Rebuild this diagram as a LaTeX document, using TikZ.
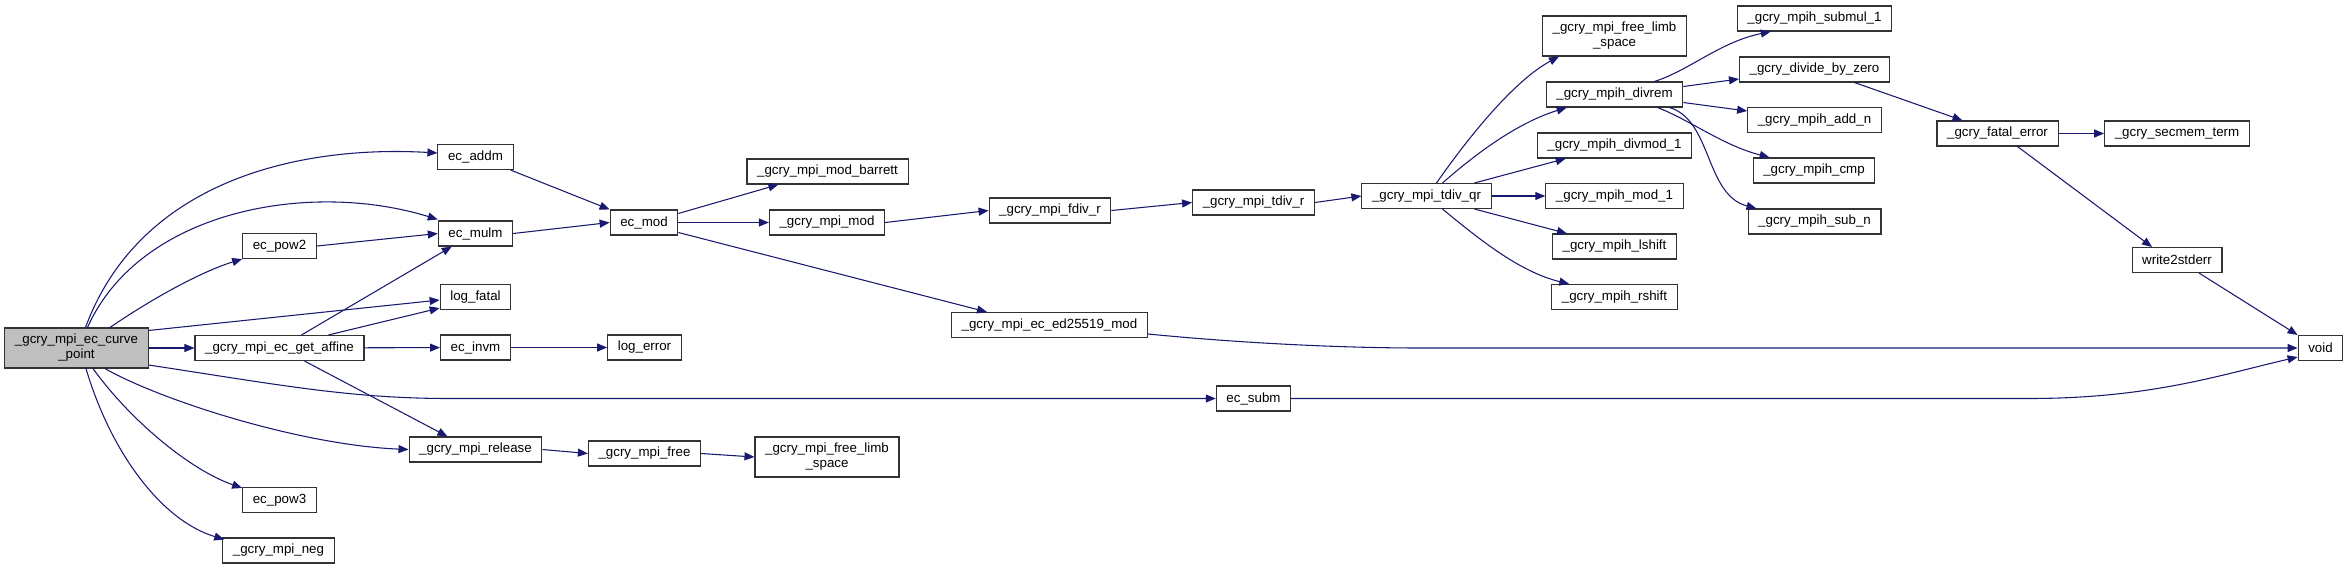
\documentclass[tikz,border=0pt]{standalone}
\usepackage{fontspec}
\setmainfont{Liberation Sans}
\usetikzlibrary{positioning,arrows.meta,calc}
\definecolor{callblue}{RGB}{25,25,112}
\definecolor{rootgray}{RGB}{191,191,191}

\begin{document}
\begin{tikzpicture}[
  x=0.75pt, y=-0.75pt,
  >={Triangle[length=7.5pt,width=6pt]},
  every node/.style={font=\fontsize{10}{11.25}\selectfont},
  fnbox/.style={draw=black!80, line width=0.8pt, fill=white, inner xsep=7.6pt, inner ysep=0pt, minimum height=18.75pt, align=center},
  rootbox/.style={fnbox, fill=rootgray, minimum height=30pt},
  twoline/.style={fnbox, minimum height=30pt},
  call/.style={->, draw=callblue, fill=none, line width=0.8pt}
]
\useasboundingbox (0,0) rectangle (2349,569);

% caller and first level
\node[rootbox] (root) at (76.5,348) {\_gcry\_mpi\_ec\_curve\\\_point};
\node[fnbox] (pow2) at (279.5,246) {ec\_pow2};
\node[fnbox] (affine) at (279.5,348) {\_gcry\_mpi\_ec\_get\_affine};
\node[fnbox] (pow3) at (279.5,500) {ec\_pow3};
\node[fnbox] (neg) at (278.5,550.5) {\_gcry\_mpi\_neg};
\node[fnbox] (addm) at (475.5,157) {ec\_addm};
\node[fnbox] (mulm) at (475.5,233.5) {ec\_mulm};
\node[fnbox] (logfatal) at (475.5,297) {log\_fatal};
\node[fnbox] (invm) at (475.5,347.5) {ec\_invm};
\node[fnbox] (release) at (475.5,449.5) {\_gcry\_mpi\_release};
\node[fnbox] (ecmod) at (644,222.5) {ec\_mod};
\node[fnbox] (logerror) at (644.5,347.5) {log\_error};
\node[fnbox] (mpifree) at (644.5,453.5) {\_gcry\_mpi\_free};
\node[fnbox] (barrett) at (827.5,171.5) {\_gcry\_mpi\_mod\_barrett};
\node[fnbox] (mpimod) at (827,222.5) {\_gcry\_mpi\_mod};
\node[twoline] (limbB) at (827,457) {\_gcry\_mpi\_free\_limb\\\_space};
\node[fnbox] (fdivr) at (1050,210.5) {\_gcry\_mpi\_fdiv\_r};
\node[fnbox] (tdivr) at (1253.5,202.5) {\_gcry\_mpi\_tdiv\_r};
\node[fnbox] (edmod) at (1049.5,325) {\_gcry\_mpi\_ec\_ed25519\_mod};
\node[fnbox] (subm) at (1253.5,398.5) {ec\_subm};

% division helpers
\node[fnbox] (tdivqr) at (1426.5,196) {\_gcry\_mpi\_tdiv\_qr};
\node[twoline] (limbT) at (1614.5,36) {\_gcry\_mpi\_free\_limb\\\_space};
\node[fnbox] (divrem) at (1614.5,94.5) {\_gcry\_mpih\_divrem};
\node[fnbox] (divmod) at (1614.5,145.5) {\_gcry\_mpih\_divmod\_1};
\node[fnbox] (modone) at (1614.5,196) {\_gcry\_mpih\_mod\_1};
\node[fnbox] (lshift) at (1614.5,246.5) {\_gcry\_mpih\_lshift};
\node[fnbox] (rshift) at (1614.5,297) {\_gcry\_mpih\_rshift};
\node[fnbox] (submul) at (1814.5,18.5) {\_gcry\_mpih\_submul\_1};
\node[fnbox] (divzero) at (1814.5,69.5) {\_gcry\_divide\_by\_zero};
\node[fnbox] (addn) at (1814.5,120) {\_gcry\_mpih\_add\_n};
\node[fnbox] (cmp) at (1814,170.5) {\_gcry\_mpih\_cmp};
\node[fnbox] (subn) at (1814.5,221.5) {\_gcry\_mpih\_sub\_n};
\node[fnbox] (fatalerr) at (1997.5,133.5) {\_gcry\_fatal\_error};
\node[fnbox] (secmem) at (2177,133.5) {\_gcry\_secmem\_term};
\node[fnbox] (wstderr) at (2177,260) {write2stderr};
\node[fnbox] (void) at (2320.5,348) {void};

% calls from the root
\draw[call] ($(root.north)+(9,0)$) .. controls (140,180) and (300,145) .. ($(addm.west)+(0,-4)$);
\draw[call] ($(root.north)+(11,0)$) .. controls (140,210) and (310,180) .. ($(mulm.north west)+(0,-1)$);
\draw[call] ($(root.north)+(33.5,0)$) .. controls (150,300) and (200,272) .. (pow2.south west);
\draw[call] ($(root.north east)+(0,3)$) -- ($(logfatal.west)+(0,3)$);
\draw[call] (root) -- (affine);
\draw[call] ($(root.east)+(0,17)$) .. controls (280,385) and (350,398.5) .. (450,398.5) -- (subm.west);
\draw[call] ($(root.south)+(28.5,0)$) .. controls (160,400) and (300,445) .. (release.west);
\draw[call] ($(root.south)+(16.5,0)$) .. controls (130,420) and (190,470) .. ($(pow3.north west)+(0,1)$);
\draw[call] ($(root.south)+(9.5,0)$) .. controls (110,450) and (160,520) .. ($(neg.north west)+(2,2)$);

\draw[call] (pow2.east) -- (mulm.west);
\draw[call] ($(affine.north)+(22,0)$) -- ($(mulm.south west)+(14,0)$);
\draw[call] ($(affine.north)+(49,0)$) -- ($(logfatal.south west)+(0,-2)$);
\draw[call] (affine) -- (invm);
\draw[call] ($(affine.south)+(25,0)$) -- ($(release.north)+(-28,0)$);
\draw[call] ($(addm.south east)+(-3,0)$) -- (ecmod.north west);
\draw[call] (mulm.east) -- (ecmod.west);
\draw[call] (invm) -- (logerror);
\draw[call] (release.east) -- (mpifree.west);
\draw[call] (mpifree.east) -- (limbB.west);

\draw[call] ($(ecmod.east)+(0,-9)$) -- ($(barrett.south west)+(32,0)$);
\draw[call] (ecmod) -- (mpimod);
\draw[call] ($(ecmod.east)+(0,10)$) -- ($(edmod.north west)+(36,0)$);
\draw[call] (mpimod.east) -- (fdivr.west);
\draw[call] (fdivr.east) -- (tdivr.west);
\draw[call] (tdivr.east) -- (tdivqr.west);

% tdiv_qr fan out
\draw[call] ($(tdivqr.north)+(10,0)$) .. controls (1470,135) and (1515,80) .. ($(limbT.south west)+(17,0)$);
\draw[call] ($(tdivqr.north)+(16,0)$) .. controls (1480,150) and (1520,122) .. ($(divrem.south west)+(21,0)$);
\draw[call] ($(tdivqr.north)+(48,0)$) -- ($(divmod.south west)+(29,0)$);
\draw[call] (tdivqr) -- (modone);
\draw[call] ($(tdivqr.south)+(48,0)$) -- ($(lshift.north west)+(15,0)$);
\draw[call] ($(tdivqr.south)+(16,0)$) .. controls (1480,240) and (1520,272) .. ($(rshift.north west)+(18,0)$);

% divrem fan out
\draw[call] ($(divrem.north)+(40,0)$) .. controls (1690,70) and (1720,42) .. ($(submul.south west)+(34,0)$);
\draw[call] ($(divrem.east)+(0,-8)$) -- ($(divzero.west)+(0,9.5)$);
\draw[call] ($(divrem.east)+(0,8)$) -- ($(addn.west)+(0,-9)$);
\draw[call] ($(divrem.south)+(43,0)$) .. controls (1690,120) and (1722,145) .. ($(cmp.north west)+(17,0)$);
\draw[call] ($(divrem.south)+(55,0)$) .. controls (1712,120) and (1705,195) .. ($(subn.north west)+(9,0)$);

% error path and sinks
\draw[call] ($(divzero.south)+(40,0)$) -- ($(fatalerr.north)+(-35,0)$);
\draw[call] (fatalerr) -- (secmem);
\draw[call] ($(fatalerr.south)+(20,0)$) -- ($(wstderr.north)+(-25,0)$);
\draw[call] ($(wstderr.south)+(22,0)$) -- (void.north west);
\draw[call] ($(edmod.east)+(0,9)$) .. controls (1250,344) and (1350,348) .. (1420,348) -- (void.west);
\draw[call] (subm.east) -- (2029,398.5) .. controls (2150,398.5) and (2220,375) .. ($(void.south west)+(0,-4)$);
\end{tikzpicture}
\end{document}
